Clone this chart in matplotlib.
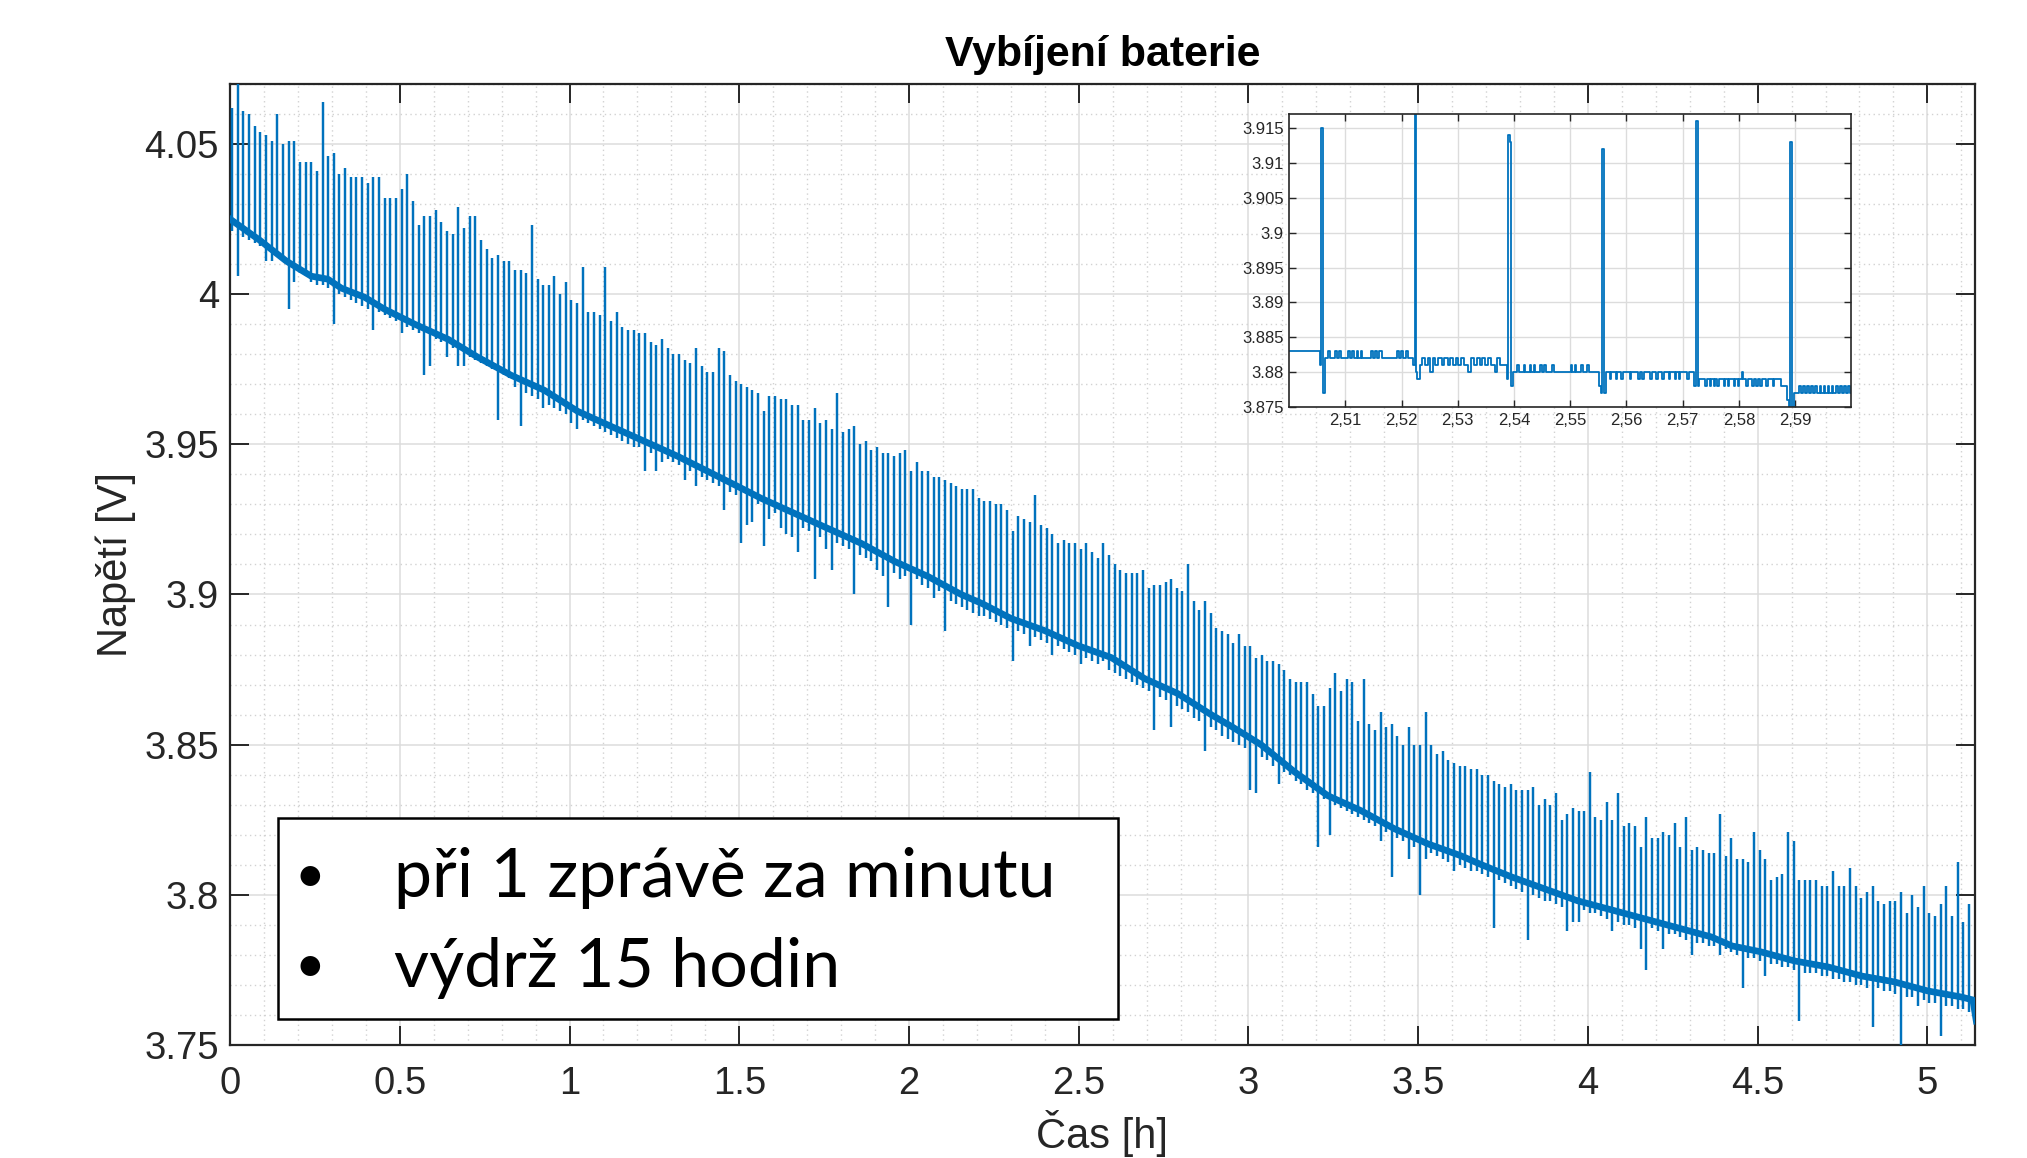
import numpy as np
import matplotlib
matplotlib.use('Agg')
import matplotlib.pyplot as plt
from matplotlib.ticker import MultipleLocator
from matplotlib.patches import Rectangle

plt.rcParams['font.family'] = ['Liberation Sans', 'DejaVu Sans']

modra = '#0072BD'
seda = '#262626'

# hlavni prubeh napeti (stred husteho pasu), cas v hodinach
zakl_t = [0.0, 0.087, 0.166, 0.239, 0.288, 0.328, 0.396, 0.455, 0.544, 0.642,
          0.730, 0.828, 0.926, 1.024, 1.122, 1.221, 1.319, 1.478, 1.565, 1.663,
          1.761, 1.860, 1.958, 2.056, 2.154, 2.215, 2.301, 2.399, 2.497, 2.596,
          2.694, 2.792, 2.890, 2.951, 3.037, 3.135, 3.234, 3.332, 3.430, 3.528,
          3.626, 3.687, 3.774, 3.872, 3.970, 4.069, 4.167, 4.265, 4.363, 4.424,
          4.510, 4.608, 4.707, 4.805, 4.903, 5.001, 5.099, 5.134, 5.144]
zakl_v = [4.025, 4.018, 4.011, 4.006, 4.005, 4.002, 3.999, 3.995, 3.990, 3.985,
          3.979, 3.973, 3.968, 3.961, 3.956, 3.951, 3.946, 3.937, 3.932, 3.927,
          3.922, 3.917, 3.911, 3.906, 3.900, 3.897, 3.892, 3.888, 3.883, 3.879,
          3.872, 3.867, 3.860, 3.856, 3.850, 3.841, 3.833, 3.828, 3.822, 3.817,
          3.813, 3.810, 3.806, 3.802, 3.798, 3.795, 3.792, 3.789, 3.786, 3.783,
          3.781, 3.778, 3.776, 3.773, 3.771, 3.768, 3.766, 3.765, 3.758]

# spicky pri odeslani zpravy (jedna za minutu): horni a dolni konec
spicka_max = [
    4.062, 4.072, 4.061, 4.060, 4.056, 4.054, 4.053, 4.051, 4.060, 4.050,
    4.051, 4.051, 4.044, 4.044, 4.044, 4.041, 4.064, 4.046, 4.047, 4.040,
    4.042, 4.039, 4.039, 4.039, 4.037, 4.039, 4.039, 4.032, 4.032, 4.032,
    4.035, 4.040, 4.031, 4.023, 4.026, 4.026, 4.028, 4.024, 4.021, 4.020,
    4.029, 4.022, 4.026, 4.026, 4.018, 4.015, 4.012, 4.013, 4.011, 4.011,
    4.008, 4.008, 4.007, 4.023, 4.005, 4.003, 4.003, 4.006, 4.000, 4.004,
    3.998, 3.997, 4.009, 3.994, 3.994, 3.993, 4.009, 3.991, 3.994, 3.989,
    3.988, 3.988, 3.987, 3.987, 3.984, 3.983, 3.985, 3.982, 3.980, 3.980,
    3.978, 3.977, 3.982, 3.976, 3.974, 3.974, 3.982, 3.981, 3.973, 3.971,
    3.970, 3.969, 3.968, 3.967, 3.961, 3.966, 3.966, 3.965, 3.965, 3.963,
    3.963, 3.958, 3.958, 3.962, 3.957, 3.958, 3.955, 3.967, 3.954, 3.955,
    3.956, 3.950, 3.951, 3.948, 3.949, 3.947, 3.947, 3.946, 3.947, 3.948,
    3.941, 3.944, 3.941, 3.941, 3.939, 3.939, 3.938, 3.937, 3.936, 3.935,
    3.935, 3.935, 3.932, 3.931, 3.931, 3.930, 3.930, 3.928, 3.921, 3.926,
    3.925, 3.924, 3.933, 3.923, 3.922, 3.920, 3.917, 3.918, 3.917, 3.917,
    3.915, 3.917, 3.914, 3.912, 3.917, 3.913, 3.910, 3.908, 3.907, 3.907,
    3.907, 3.908, 3.902, 3.903, 3.903, 3.904, 3.905, 3.902, 3.901, 3.910,
    3.898, 3.895, 3.898, 3.894, 3.889, 3.888, 3.887, 3.884, 3.887, 3.883,
    3.883, 3.879, 3.880, 3.878, 3.878, 3.877, 3.875, 3.872, 3.871, 3.871,
    3.871, 3.867, 3.863, 3.863, 3.869, 3.874, 3.868, 3.872, 3.871, 3.858,
    3.872, 3.857, 3.855, 3.861, 3.856, 3.857, 3.853, 3.850, 3.856, 3.850,
    3.850, 3.861, 3.850, 3.847, 3.848, 3.845, 3.844, 3.843, 3.843, 3.842,
    3.842, 3.840, 3.840, 3.838, 3.837, 3.836, 3.837, 3.835, 3.835, 3.835,
    3.836, 3.830, 3.832, 3.830, 3.834, 3.825, 3.827, 3.829, 3.828, 3.828,
    3.841, 3.826, 3.825, 3.831, 3.825, 3.834, 3.823, 3.824, 3.823, 3.816,
    3.826, 3.819, 3.819, 3.821, 3.820, 3.824, 3.816, 3.826, 3.815, 3.816,
    3.815, 3.814, 3.814, 3.827, 3.813, 3.819, 3.812, 3.812, 3.811, 3.821,
    3.815, 3.812, 3.805, 3.806, 3.807, 3.821, 3.818, 3.805, 3.805, 3.805,
    3.805, 3.803, 3.803, 3.808, 3.803, 3.803, 3.809, 3.803, 3.799, 3.801,
    3.803, 3.798, 3.797, 3.798, 3.798, 3.801, 3.794, 3.800, 3.796, 3.803,
    3.794, 3.793, 3.797, 3.803, 3.793, 3.811, 3.791, 3.797]
spicka_min = [
    4.021, 4.006, 4.019, 4.018, 4.017, 4.016, 4.011, 4.011, 4.013, 4.012,
    3.995, 4.004, 4.007, 4.006, 4.004, 4.003, 4.003, 4.002, 3.990, 4.000,
    3.999, 3.998, 3.997, 3.996, 3.995, 3.988, 3.994, 3.993, 3.992, 3.991,
    3.987, 3.989, 3.988, 3.987, 3.973, 3.976, 3.985, 3.984, 3.979, 3.982,
    3.976, 3.976, 3.979, 3.978, 3.977, 3.976, 3.975, 3.958, 3.973, 3.972,
    3.969, 3.956, 3.967, 3.966, 3.965, 3.962, 3.963, 3.962, 3.961, 3.960,
    3.957, 3.955, 3.958, 3.957, 3.956, 3.955, 3.954, 3.953, 3.952, 3.951,
    3.950, 3.949, 3.949, 3.941, 3.947, 3.941, 3.944, 3.945, 3.944, 3.943,
    3.938, 3.941, 3.936, 3.939, 3.938, 3.937, 3.936, 3.928, 3.934, 3.933,
    3.917, 3.923, 3.924, 3.930, 3.916, 3.925, 3.927, 3.922, 3.920, 3.919,
    3.914, 3.922, 3.921, 3.905, 3.919, 3.915, 3.908, 3.917, 3.916, 3.915,
    3.900, 3.913, 3.912, 3.911, 3.908, 3.906, 3.896, 3.907, 3.905, 3.906,
    3.890, 3.905, 3.903, 3.902, 3.899, 3.901, 3.888, 3.898, 3.897, 3.896,
    3.895, 3.894, 3.893, 3.893, 3.892, 3.891, 3.890, 3.889, 3.878, 3.888,
    3.887, 3.883, 3.886, 3.885, 3.884, 3.880, 3.883, 3.882, 3.881, 3.880,
    3.877, 3.879, 3.878, 3.877, 3.878, 3.875, 3.874, 3.873, 3.872, 3.871,
    3.870, 3.869, 3.868, 3.855, 3.866, 3.865, 3.856, 3.863, 3.862, 3.861,
    3.859, 3.858, 3.848, 3.856, 3.855, 3.853, 3.852, 3.851, 3.850, 3.849,
    3.835, 3.834, 3.846, 3.845, 3.843, 3.837, 3.841, 3.840, 3.838, 3.837,
    3.835, 3.834, 3.816, 3.832, 3.820, 3.830, 3.829, 3.828, 3.827, 3.826,
    3.825, 3.824, 3.823, 3.818, 3.821, 3.806, 3.819, 3.818, 3.812, 3.816,
    3.800, 3.812, 3.814, 3.813, 3.812, 3.811, 3.808, 3.810, 3.809, 3.808,
    3.808, 3.807, 3.806, 3.789, 3.805, 3.804, 3.803, 3.802, 3.801, 3.785,
    3.800, 3.799, 3.798, 3.798, 3.797, 3.796, 3.788, 3.791, 3.791, 3.795,
    3.794, 3.794, 3.793, 3.792, 3.788, 3.791, 3.790, 3.790, 3.789, 3.782,
    3.775, 3.789, 3.788, 3.782, 3.787, 3.787, 3.786, 3.785, 3.780, 3.784,
    3.784, 3.783, 3.783, 3.780, 3.782, 3.781, 3.780, 3.769, 3.779, 3.779,
    3.778, 3.773, 3.777, 3.777, 3.776, 3.776, 3.775, 3.758, 3.774, 3.774,
    3.774, 3.773, 3.773, 3.772, 3.772, 3.771, 3.771, 3.770, 3.770, 3.769,
    3.756, 3.769, 3.768, 3.768, 3.767, 3.750, 3.766, 3.766, 3.763, 3.765,
    3.764, 3.764, 3.753, 3.763, 3.763, 3.762, 3.762, 3.761]
# zprava kazdou minutu, prvni asi 20 s od zacatku
spicka_t = (np.arange(len(spicka_max)) + 0.34) / 60

# vyrez 2.5 - 2.6 h (schodovity prubeh)
vyrez_t = [2.5000, 2.5054, 2.5057, 2.5060, 2.5063,
           2.5069, 2.5072, 2.5082, 2.5085, 2.5089, 2.5092, 2.5105, 2.5109,
           2.5112, 2.5116, 2.5120, 2.5123, 2.5127, 2.5130, 2.5145, 2.5149,
           2.5152, 2.5156, 2.5160, 2.5165, 2.5192, 2.5196, 2.5199, 2.5203,
           2.5208, 2.5211,
           2.5220, 2.5223, 2.5226, 2.5228, 2.5232,
           2.5236, 2.5242, 2.5247, 2.5250, 2.5255, 2.5260, 2.5265, 2.5272,
           2.5276, 2.5283, 2.5287, 2.5292, 2.5296, 2.5301, 2.5305, 2.5311,
           2.5319, 2.5323, 2.5328, 2.5334, 2.5339, 2.5343, 2.5348, 2.5353,
           2.5359, 2.5366, 2.5370, 2.5375,
           2.5387, 2.5390, 2.5393, 2.5395, 2.5398,
           2.5406, 2.5409, 2.5417, 2.5420, 2.5428, 2.5431, 2.5435, 2.5438,
           2.5446, 2.5449, 2.5454, 2.5457, 2.5468, 2.5471, 2.5501, 2.5504,
           2.5508, 2.5511, 2.5519, 2.5522, 2.5530, 2.5533,
           2.5552, 2.5555, 2.5557, 2.5560, 2.5564,
           2.5570, 2.5573, 2.5581, 2.5584, 2.5591, 2.5594, 2.5606, 2.5609,
           2.5621, 2.5624, 2.5628, 2.5631, 2.5642, 2.5645, 2.5653, 2.5656,
           2.5664, 2.5667, 2.5675, 2.5678, 2.5686, 2.5689, 2.5693, 2.5696,
           2.5708, 2.5711,
           2.5721, 2.5724, 2.5727, 2.5729,
           2.5740, 2.5743, 2.5748, 2.5751, 2.5755, 2.5758, 2.5762, 2.5765,
           2.5773, 2.5776, 2.5780, 2.5783, 2.5791, 2.5794, 2.5798, 2.5801,
           2.5805, 2.5808, 2.5813, 2.5816, 2.5824, 2.5827, 2.5831, 2.5834,
           2.5838, 2.5841, 2.5849, 2.5852, 2.5860, 2.5863,
           2.5875, 2.5886, 2.5889, 2.5891, 2.5894, 2.5899,
           2.5907, 2.5910, 2.5915, 2.5918, 2.5922, 2.5925, 2.5929, 2.5932,
           2.5936, 2.5939, 2.5944, 2.5947, 2.5951, 2.5954, 2.5958, 2.5961,
           2.5965, 2.5968, 2.5973, 2.5976, 2.5980, 2.5983, 2.5987, 2.5990,
           2.5994, 2.5997, 2.6000]
vyrez_v = [3.883, 3.881, 3.915, 3.877, 3.882,
           3.883, 3.882, 3.883, 3.882, 3.883, 3.882, 3.883, 3.882,
           3.883, 3.882, 3.883, 3.882, 3.883, 3.882, 3.883, 3.882,
           3.883, 3.882, 3.883, 3.882, 3.883, 3.882, 3.883, 3.882,
           3.883, 3.882,
           3.881, 3.918, 3.880, 3.879, 3.881,
           3.882, 3.881, 3.882, 3.880, 3.882, 3.881, 3.882, 3.881,
           3.882, 3.881, 3.882, 3.881, 3.882, 3.881, 3.882, 3.881,
           3.880, 3.882, 3.881, 3.882, 3.881, 3.882, 3.881, 3.882,
           3.881, 3.880, 3.882, 3.881,
           3.879, 3.914, 3.913, 3.878, 3.880,
           3.881, 3.880, 3.881, 3.880, 3.881, 3.880, 3.881, 3.880,
           3.881, 3.880, 3.881, 3.880, 3.881, 3.880, 3.881, 3.880,
           3.881, 3.880, 3.881, 3.880, 3.881, 3.880,
           3.878, 3.877, 3.912, 3.877, 3.880,
           3.879, 3.880, 3.879, 3.880, 3.879, 3.880, 3.879, 3.880,
           3.879, 3.880, 3.879, 3.880, 3.879, 3.880, 3.879, 3.880,
           3.879, 3.880, 3.879, 3.880, 3.879, 3.880, 3.879, 3.880,
           3.879, 3.880,
           3.878, 3.916, 3.878, 3.879,
           3.878, 3.879, 3.878, 3.879, 3.878, 3.879, 3.878, 3.879,
           3.878, 3.879, 3.878, 3.879, 3.878, 3.879, 3.878, 3.879,
           3.880, 3.879, 3.878, 3.879, 3.878, 3.879, 3.878, 3.879,
           3.878, 3.879, 3.878, 3.879, 3.878, 3.879,
           3.878, 3.876, 3.875, 3.913, 3.875, 3.877,
           3.878, 3.877, 3.878, 3.877, 3.878, 3.877, 3.878, 3.877,
           3.878, 3.877, 3.878, 3.877, 3.878, 3.877, 3.878, 3.877,
           3.878, 3.877, 3.878, 3.877, 3.878, 3.877, 3.878, 3.877,
           3.878, 3.877, 3.877]

x_ticks = [0, 0.5, 1, 1.5, 2, 2.5, 3, 3.5, 4, 4.5, 5]
y_ticks = [3.75, 3.8, 3.85, 3.9, 3.95, 4.0, 4.05]
vyrez_xticks = [2.51, 2.52, 2.53, 2.54, 2.55, 2.56, 2.57, 2.58, 2.59]
vyrez_yticks = [3.875, 3.88, 3.885, 3.89, 3.895, 3.9, 3.905, 3.91, 3.915]
body = ['při 1 zprávě za minutu', 'výdrž 15 hodin']

fig = plt.figure(figsize=(20.27, 11.58), dpi=100)

# hlavni graf
ax = fig.add_axes([0.1135, 0.0976, 0.8608, 0.8299])
ax.plot(zakl_t, zakl_v, color=modra, lw=4.8, solid_joinstyle='round', zorder=3)
ax.vlines(spicka_t, spicka_min, spicka_max, color=modra, lw=1.75, zorder=3)
ax.set_xlim(0, 5.14)
ax.set_ylim(3.75, 4.07)
ax.set_xticks(x_ticks)
ax.set_xticklabels(['%g' % v for v in x_ticks])
ax.set_yticks(y_ticks)
ax.set_yticklabels(['%g' % v for v in y_ticks])
ax.xaxis.set_minor_locator(MultipleLocator(0.1))
ax.yaxis.set_minor_locator(MultipleLocator(0.01))
ax.set_axisbelow(True)
ax.grid(True, which='major', color='#dcdcdc', lw=1.1)
ax.grid(True, which='minor', color='#d2d2d2', lw=1.0, linestyle=(0, (1, 2.5)))
ax.tick_params(which='major', direction='in', length=14, width=1.4, top=True, right=True,
               labelsize=27.5, colors=seda)
ax.tick_params(axis='x', which='major', pad=15)
ax.tick_params(axis='y', which='major', pad=8)
ax.tick_params(which='minor', length=0)
for s in ax.spines.values():
    s.set_color(seda)
    s.set_linewidth(1.6)
ax.set_title('Vybíjení baterie', fontsize=31, fontweight='bold', pad=13)
ax.set_xlabel('Čas [h]', fontsize=30, color=seda)
ax.set_ylabel('Napětí [V]', fontsize=30, color=seda)
ax.xaxis.set_label_coords(0.5, -0.068)
ax.yaxis.set_label_coords(-0.054, 0.5)

# vyrez
axi = fig.add_axes([0.636, 0.6485, 0.2773, 0.253])
axi.plot(vyrez_t, vyrez_v, drawstyle='steps-post', color=modra, lw=1.3)
axi.set_xlim(2.5, 2.6)
axi.set_ylim(3.875, 3.917)
axi.set_xticks(vyrez_xticks)
axi.set_xticklabels([('%g' % v).replace('.', ',') for v in vyrez_xticks])
axi.set_yticks(vyrez_yticks)
axi.set_yticklabels(['%g' % v for v in vyrez_yticks])
axi.grid(True, color='#dcdcdc', lw=1.0)
axi.tick_params(direction='in', length=5, width=1, top=True, right=True,
                labelsize=12, colors=seda, pad=4)
for s in axi.spines.values():
    s.set_color(seda)
    s.set_linewidth(1.2)

# textove pole s poznamkou
fig.add_artist(Rectangle((0.1371, 0.12), 0.4145, 0.1736, transform=fig.transFigure,
                         facecolor='white', edgecolor='black', lw=1.8, zorder=5))
for y, txt in zip([0.2254, 0.1477], body):
    fig.text(0.153, y + 0.004, '•', fontsize=38, family=['Lato', 'DejaVu Sans'],
             ha='center', va='baseline', zorder=6)
    fig.text(0.1944, y, txt, fontsize=49, family=['Lato', 'DejaVu Sans'],
             ha='left', va='baseline', zorder=6)

fig.savefig('out.png', dpi=100, facecolor='white')
